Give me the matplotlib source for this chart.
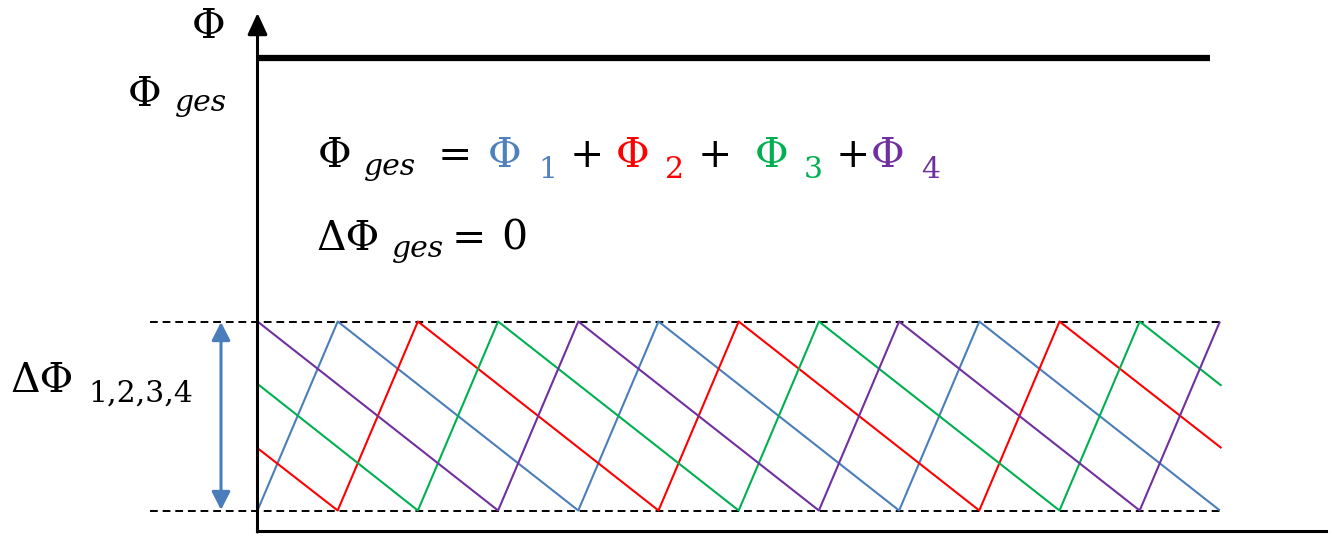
import matplotlib
matplotlib.use("Agg")
import matplotlib.pyplot as plt
import matplotlib.transforms as mtransforms
from matplotlib.patches import FancyArrowPatch
from matplotlib.lines import Line2D

W, H, DPI = 1331, 538, 100

# ---- data: four phase-shifted sawtooth fluxes (time in phase steps, value 0..1)
phi1_t = [0, 1, 4, 5, 8, 9, 12]
phi1_v = [0, 1, 0, 1, 0, 1, 0]
phi2_t = [0, 1, 2, 5, 6, 9, 10, 12.02]
phi2_v = [0.33, 0, 1, 0, 1, 0, 1, 0.33]
phi3_t = [0, 2, 3, 6, 7, 10, 11, 12.02]
phi3_v = [0.67, 0, 1, 0, 1, 0, 1, 0.66]
phi4_t = [0, 3, 4, 7, 8, 11, 12]
phi4_v = [1, 0, 1, 0, 1, 0, 1]

# total flux (constant)
ges_t = [0, 11.88]
ges_v = [2.394, 2.394]

# ripple band limits
band_t = [-1.34, 12.02]
band_lo = 0
band_hi = 1

BLUE = "#4A7EBB"
RED = "#FF0000"
GREEN = "#00B050"
PURPLE = "#7030A0"

fig = plt.figure(figsize=(W / DPI, H / DPI), dpi=DPI)
ax = fig.add_axes([0, 0, 1, 1])
ax.set_xlim(-3.2107, 13.3853)
ax.set_ylim(-0.1455, 2.7011)
ax.axis("off")

# pixel coordinates, origin top-left
PX = mtransforms.Affine2D().scale(1, -1).translate(0, H)

# band limits (dashed)
dash = (0, (4, 2.5))
ax.plot(band_t, [band_hi, band_hi], color="black", lw=1.4, ls=dash)
ax.plot(band_t, [band_lo, band_lo], color="black", lw=1.4, ls=dash)

# sawtooth fluxes
for t, v, c in [(phi1_t, phi1_v, BLUE), (phi2_t, phi2_v, RED),
                (phi3_t, phi3_v, GREEN), (phi4_t, phi4_v, PURPLE)]:
    ax.plot(t, v, color=c, lw=1.5, solid_capstyle="butt")

# total flux level
ax.plot(ges_t, ges_v, color="black", lw=4.5, solid_capstyle="butt")

# coordinate axes
fig.add_artist(Line2D([256.5, 1326], [531, 531], color="black", lw=2.2,
                      transform=PX))
fig.add_artist(FancyArrowPatch((257.5, 532), (257.5, 13), transform=PX,
                               arrowstyle="-|>,head_length=0.65,head_width=0.3",
                               mutation_scale=20, color="black", lw=2.2,
                               shrinkA=0, shrinkB=0))

# ripple amplitude double arrow
fig.add_artist(FancyArrowPatch((221, 322), (221, 510), transform=PX,
                               arrowstyle="<|-|>,head_length=0.55,head_width=0.28",
                               mutation_scale=20, color=BLUE, lw=2.2,
                               shrinkA=0, shrinkB=0))

MAIN = 29.5
SUB = 21.5
FAM = "DejaVu Serif"


def put(x, y, s, color="black", size=MAIN, style="normal"):
    fig.text(x, y, s, transform=PX, ha="left", va="baseline",
             color=color, fontsize=size, family=FAM, style=style)


# axis label
put(192, 38, "Φ")
put(128, 106, "Φ")
put(175, 111, "ges", size=SUB, style="italic")

# sum formula
put(318, 167, "Φ")
put(364, 175, "ges", size=SUB, style="italic")
put(438, 167, "=")
put(488, 167, "Φ", color="#4F81BD")
put(538, 178, "1", color="#4F81BD", size=SUB)
put(570, 167, "+")
put(616, 167, "Φ", color=RED)
put(665, 178, "2", color=RED, size=SUB)
put(698, 167, "+")
put(755, 167, "Φ", color=GREEN)
put(804, 178, "3", color=GREEN, size=SUB)
put(836, 167, "+")
put(871, 167, "Φ", color=PURPLE)
put(921, 178, "4", color=PURPLE, size=SUB)

# ripple of total flux
put(316, 250, "ΔΦ")
put(392, 257, "ges", size=SUB, style="italic")
put(452, 250, "=")
put(501, 250, "0")

# ripple of partial fluxes
put(10, 392, "ΔΦ")
put(88, 402, "1,2,3,4", size=SUB)

fig.savefig("out.png", dpi=DPI)
